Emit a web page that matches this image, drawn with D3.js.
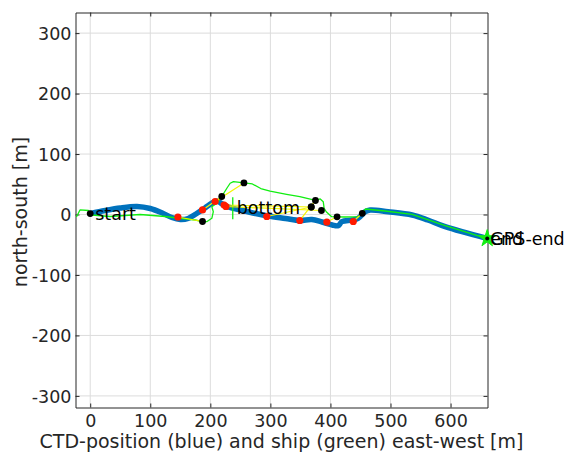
<!DOCTYPE html>
<html><head><meta charset="utf-8">
<script src="https://cdn.jsdelivr.net/npm/d3@7"></script>
<style>body{margin:0;background:#fff}text{font-family:"DejaVu Sans",sans-serif}</style>
</head><body>
<svg id="c" width="568" height="453"></svg>
<script>
const xTicks = [0, 100, 200, 300, 400, 500, 600];
const yTicks = [-300, -200, -100, 0, 100, 200, 300];
const xLabel = "CTD-position (blue) and ship (green) east-west [m]";
const yLabel = "north-south [m]";

// CTD track (blue)
const ctdX = [0, 25, 50, 78, 100, 120, 136, 150, 163, 176, 191, 203, 211, 220, 230, 250, 275, 296, 325, 349, 369, 386, 403, 413, 419, 436, 446, 458, 466, 496, 536, 562, 591, 661];
const ctdY = [1.5, 6.6, 10.8, 13.2, 9.9, 2.5, -5.0, -8.3, -6.6, 0.8, 10.8, 19, 22.4, 17.4, 12.4, 7.5, 1.7, -2.5, -6.6, -9.9, -8.3, -12.4, -17.4, -18.5, -11.9, -9.1, -6.3, 4.6, 7.5, 4.6, -0.8, -9.1, -20.2, -39.7];

// ship track (green)
const shipX = [-23, -17, -3, 3, 33, 83, 125, 145, 175, 187, 194, 202.5, 205, 202.5, 211, 219, 227.5, 233, 238.5, 256, 270, 284, 299.5, 327, 349, 375, 383, 388, 389.5, 393, 402, 411, 424, 446, 453, 458, 491, 536, 591, 661];
const shipY = [-4.1, 7.5, 6.6, -0.8, -3.3, 0, -3.3, -5.8, -9.1, -11.6, -11.9, -6.3, 4.6, 12.9, 18.5, 29.8, 43.4, 51.7, 54.3, 52.2, 50.5, 43, 38.5, 33.4, 29.5, 23.2, 25.7, 21.2, 10.3, 4.6, -3.6, -3.8, -4.1, -3.6, 2.0, 9.1, 5.8, 0.3, -18.5, -39.7];

// paired samples: CTD position (red) and ship position (black)
const sampCtdX = [146, 187, 208, 223, 226, 294, 349, 394, 438];
const sampCtdY = [-4.1, 7.5, 21.5, 15.7, 13.2, -3.3, -9.9, -12.4, -11.6];
const sampShipX = [187, 219, 256, 368, 385, 368, 375, 411, 453];
const sampShipY = [-11.6, 29.8, 52.2, 12.4, 6.6, 12.4, 23.2, -3.8, 2.0];

const startPt = [0, 1.5];
const bottomPt = [244, 10.5];
const endPt = [661, -39.7];

const svg = d3.select("#c");
const x = d3.scaleLinear().domain([-24.5, 661.5]).range([75.5, 487.5]);
const y = d3.scaleLinear().domain([-319.2, 334.1]).range([407.5, 12.5]);
const [x0, x1] = x.range(), [y0, y1] = y.range();
const ink = "#262626";
const tickFs = 17.5, labFs = 19, txtFs = 17.5;

// grid
const g = svg.append("g");
g.selectAll("line.gx").data(xTicks).join("line")
  .attr("x1", d => x(d)).attr("x2", d => x(d)).attr("y1", y0).attr("y2", y1)
  .attr("stroke", "#dcdcdc").attr("stroke-width", 1);
g.selectAll("line.gy").data(yTicks).join("line")
  .attr("y1", d => y(d)).attr("y2", d => y(d)).attr("x1", x0).attr("x2", x1)
  .attr("stroke", "#dcdcdc").attr("stroke-width", 1);

// axes (ticks inside)
const ax = svg.append("g").attr("transform", `translate(0,${y0})`)
  .call(d3.axisBottom(x).tickValues(xTicks).tickSizeInner(-4).tickSizeOuter(0).tickFormat(d3.format("d")));
ax.selectAll(".tick text").attr("y", 19.5).attr("dy", 0);
const axT = svg.append("g").attr("transform", `translate(0,${y1})`)
  .call(d3.axisTop(x).tickValues(xTicks).tickSizeInner(-4).tickSizeOuter(0).tickFormat(""));
const ay = svg.append("g").attr("transform", `translate(${x0},0)`)
  .call(d3.axisLeft(y).tickValues(yTicks).tickSizeInner(-4).tickSizeOuter(0).tickFormat(d => String(d)));
ay.selectAll(".tick text").attr("x", -4).attr("dy", "0.36em");
const ayR = svg.append("g").attr("transform", `translate(${x1},0)`)
  .call(d3.axisRight(y).tickValues(yTicks).tickSizeInner(-4).tickSizeOuter(0).tickFormat(""));
[ax, axT, ay, ayR].forEach(a => {
  a.select(".domain").attr("stroke", ink);
  a.selectAll(".tick line").attr("stroke", ink);
  a.selectAll("text").attr("fill", ink).style("font-size", tickFs + "px").style("font-family", "DejaVu Sans");
});

// tracks
const line = d3.line().x(d => x(d[0])).y(d => y(d[1])).curve(d3.curveCatmullRom);
const ctd = ctdX.map((v, i) => [v, ctdY[i]]);
const ship = shipX.map((v, i) => [v, shipY[i]]);
svg.append("path").attr("d", line(ctd)).attr("fill", "none")
  .attr("stroke", "#0072bd").attr("stroke-width", 5.5).attr("stroke-linejoin", "round").attr("stroke-linecap", "round");
svg.append("path").attr("d", d3.line().x(d => x(d[0])).y(d => y(d[1]))(ship)).attr("fill", "none")
  .attr("stroke", "#11ee11").attr("stroke-width", 1.3).attr("stroke-linejoin", "round");

// bottom marker
svg.append("line").attr("x1", x(bottomPt[0]) - 4).attr("x2", x(bottomPt[0]) - 4)
  .attr("y1", y(bottomPt[1]) - 11).attr("y2", y(bottomPt[1]) + 11)
  .attr("stroke", "#11ee11").attr("stroke-width", 1.3);

// pairing lines
svg.selectAll("line.pair").data(sampCtdX).join("line")
  .attr("x1", (d, i) => x(d)).attr("y1", (d, i) => y(sampCtdY[i]))
  .attr("x2", (d, i) => x(sampShipX[i])).attr("y2", (d, i) => y(sampShipY[i]))
  .attr("stroke", "#f5f500").attr("stroke-width", 1.2);
svg.selectAll("circle.r").data(sampCtdX).join("circle")
  .attr("cx", d => x(d)).attr("cy", (d, i) => y(sampCtdY[i])).attr("r", 3.6).attr("fill", "#ff1a00");
svg.selectAll("circle.b").data(sampShipX).join("circle")
  .attr("cx", d => x(d)).attr("cy", (d, i) => y(sampShipY[i])).attr("r", 3.4).attr("fill", "#000");

// start
svg.append("circle").attr("cx", x(startPt[0])).attr("cy", y(startPt[1])).attr("r", 3.4).attr("fill", "#000");
svg.append("text").attr("x", x(startPt[0]) + 5).attr("y", y(startPt[1])).attr("dy", "0.35em")
  .style("font-size", txtFs + "px").attr("fill", "#000").text("start");
svg.append("text").attr("x", x(bottomPt[0])).attr("y", y(bottomPt[1])).attr("dy", "0.35em")
  .style("font-size", txtFs + "px").attr("fill", "#000").text("bottom");

// end
svg.append("path").attr("d", d3.symbol(d3.symbolStar, 90)())
  .attr("transform", `translate(${x(endPt[0])},${y(endPt[1])})`).attr("fill", "#11ee11").attr("stroke", "#11ee11");
svg.append("circle").attr("cx", x(endPt[0])).attr("cy", y(endPt[1])).attr("r", 2).attr("fill", "#000");
svg.append("text").attr("x", x(endPt[0]) + 3).attr("y", y(endPt[1])).attr("dy", "0.35em")
  .style("font-size", txtFs + "px").attr("fill", "#000").text("GPS-end");
svg.append("text").attr("x", x(endPt[0]) + 3).attr("y", y(endPt[1])).attr("dy", "0.35em")
  .style("font-size", txtFs + "px").attr("fill", "#000").text("end");

// labels
svg.append("text").attr("x", (x0 + x1) / 2).attr("y", 447.5).attr("text-anchor", "middle")
  .style("font-size", labFs + "px").attr("fill", ink).text(xLabel);
svg.append("text").attr("transform", `translate(27,${(y0 + y1) / 2 + 2}) rotate(-90)`).attr("text-anchor", "middle")
  .style("font-size", labFs + "px").attr("fill", ink).text(yLabel);
</script>
</body></html>
